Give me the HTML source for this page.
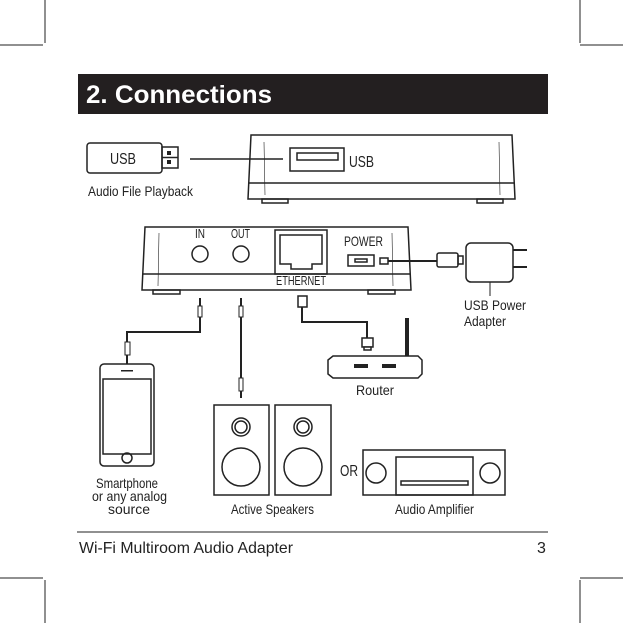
<!DOCTYPE html>
<html><head><meta charset="utf-8"><style>
html,body{margin:0;padding:0;background:#fff;}
svg{display:block;}
text{font-family:"Liberation Sans",sans-serif;fill:#222;}
</style></head><body>
<svg width="623" height="623" viewBox="0 0 623 623" xmlns="http://www.w3.org/2000/svg">
<g stroke="#222" stroke-width="1">
<line x1="45" y1="0" x2="45" y2="43"/><line x1="580" y1="0" x2="580" y2="43"/>
<line x1="0" y1="45" x2="43" y2="45"/><line x1="580" y1="45" x2="623" y2="45"/>
<line x1="0" y1="578" x2="43" y2="578"/><line x1="580" y1="578" x2="623" y2="578"/>
<line x1="45" y1="580" x2="45" y2="623"/><line x1="580" y1="580" x2="580" y2="623"/>
</g>
<rect x="78" y="74" width="470" height="40" fill="#231f20"/>
<text x="86" y="103" font-size="25" font-weight="bold" style="fill:#fff" textLength="186" lengthAdjust="spacingAndGlyphs">2. Connections</text>

<g fill="none" stroke="#222" stroke-width="1.5">
<rect x="87" y="143" width="75" height="30" rx="3"/>
<rect x="162" y="147" width="16" height="21"/>
<line x1="162" y1="157.5" x2="178" y2="157.5"/>
<line x1="190" y1="159" x2="283" y2="159"/>
<path d="M251 135 L512 135 L515 199 L248 199 Z"/>
<line x1="249" y1="183" x2="514" y2="183"/>
<path d="M264 142 L265 195 M499 142 L500 195" stroke-width="0.6"/>
<rect x="262" y="199" width="26" height="4"/><rect x="477" y="199" width="26" height="4"/>
<rect x="290" y="148" width="54" height="23"/>
<rect x="297" y="153" width="41" height="7"/>
<path d="M145 227 L408 227 L411 290 L142 290 Z"/>
<line x1="143" y1="274" x2="410" y2="274"/>
<path d="M159 233 L158 286 M392 233 L393 286" stroke-width="0.6"/>
<rect x="153" y="290" width="27" height="4"/><rect x="368" y="290" width="27" height="4"/>
<circle cx="200" cy="254" r="8"/><circle cx="241" cy="254" r="8"/>
<rect x="275" y="230" width="52" height="44"/>
<path d="M280 235 L322 235 L322 264 L312 264 L312 269 L291 269 L291 264 L280 264 Z"/>
<rect x="348" y="255" width="26" height="11"/>
<rect x="355" y="259" width="12" height="3"/>
<rect x="380" y="258" width="8" height="6"/>
<rect x="437" y="253" width="21" height="14" rx="2"/>
<rect x="458" y="256" width="5" height="8"/>
<rect x="466" y="243" width="47" height="39" rx="5"/>
<path d="M513 250 L527 250 M513 267 L527 267" stroke-width="2"/>
<line x1="490" y1="282" x2="490" y2="296" stroke-width="1"/>
<path d="M388 261 L437 261" stroke-width="2"/>
<path d="M200 298 L200 332 L127 332 L127 364" stroke-width="2"/>
<rect x="198" y="306" width="4" height="11" fill="#fff" stroke-width="1"/>
<rect x="125" y="342" width="5" height="13" fill="#fff" stroke-width="1"/>
<path d="M241 298 L241 398" stroke-width="2"/>
<rect x="239" y="306" width="4" height="11" fill="#fff" stroke-width="1"/>
<rect x="239" y="378" width="4" height="13" fill="#fff" stroke-width="1"/>
<path d="M302 307 L302 322 L367 322 L367 338" stroke-width="2"/>
<rect x="298" y="296" width="9" height="11" fill="#fff"/>
<rect x="362" y="338" width="11" height="9" fill="#fff"/>
<rect x="364" y="347" width="7" height="3" fill="#fff"/>
<path d="M333 356 L418 356 L422 360 L422 374 L418 378 L333 378 L328 374 L328 360 Z"/>
<rect x="100" y="364" width="54" height="102" rx="4"/>
<rect x="103" y="379" width="48" height="75"/>
<circle cx="127" cy="458" r="5"/>
<rect x="214" y="405" width="55" height="90"/>
<rect x="275" y="405" width="56" height="90"/>
<circle cx="241" cy="427" r="9"/><circle cx="241" cy="427" r="6"/>
<circle cx="303" cy="427" r="9"/><circle cx="303" cy="427" r="6"/>
<circle cx="241" cy="467" r="19"/><circle cx="303" cy="467" r="19"/>
<rect x="363" y="450" width="142" height="45"/>
<rect x="396" y="457" width="77" height="38"/>
<rect x="401" y="481" width="67" height="4"/>
<circle cx="376" cy="473" r="10"/><circle cx="490" cy="473" r="10"/>
<line x1="77" y1="532" x2="548" y2="532" stroke-width="1"/>
</g>
<g fill="#222">
<rect x="167" y="151" width="4" height="4"/><rect x="167" y="160" width="4" height="4"/>
<rect x="405" y="318" width="4" height="38"/>
<rect x="354" y="364" width="14" height="4"/><rect x="382" y="364" width="14" height="4"/>
<rect x="121" y="370" width="12" height="1.5"/>
</g>
<g font-size="14" lengthAdjust="spacingAndGlyphs">
<text x="110" y="164" font-size="16" textLength="26" lengthAdjust="spacingAndGlyphs">USB</text>
<text x="88" y="196" textLength="105" lengthAdjust="spacingAndGlyphs">Audio File Playback</text>
<text x="349" y="167" font-size="16" textLength="25" lengthAdjust="spacingAndGlyphs">USB</text>
<text x="195" y="238" font-size="13" textLength="10" lengthAdjust="spacingAndGlyphs">IN</text>
<text x="231" y="238" font-size="13" textLength="19" lengthAdjust="spacingAndGlyphs">OUT</text>
<text x="276" y="285" font-size="13" textLength="50" lengthAdjust="spacingAndGlyphs">ETHERNET</text>
<text x="344" y="246" textLength="39" lengthAdjust="spacingAndGlyphs">POWER</text>
<text x="464" y="310" textLength="62" lengthAdjust="spacingAndGlyphs">USB Power</text>
<text x="464" y="326" textLength="42" lengthAdjust="spacingAndGlyphs">Adapter</text>
<text x="356" y="395" textLength="38" lengthAdjust="spacingAndGlyphs">Router</text>
<text x="96" y="488" textLength="62" lengthAdjust="spacingAndGlyphs">Smartphone</text>
<text x="92" y="501" textLength="75" lengthAdjust="spacingAndGlyphs">or any analog</text>
<text x="108" y="514" textLength="42" lengthAdjust="spacingAndGlyphs">source</text>
<text x="231" y="514" textLength="83" lengthAdjust="spacingAndGlyphs">Active  Speakers</text>
<text x="340" y="476" font-size="16" textLength="18" lengthAdjust="spacingAndGlyphs">OR</text>
<text x="395" y="514" textLength="79" lengthAdjust="spacingAndGlyphs">Audio Amplifier</text>
<text x="79" y="553" font-size="16" textLength="214" lengthAdjust="spacingAndGlyphs">Wi-Fi Multiroom Audio Adapter</text>
<text x="537" y="553" font-size="16">3</text>
</g>
</svg>
</body></html>
